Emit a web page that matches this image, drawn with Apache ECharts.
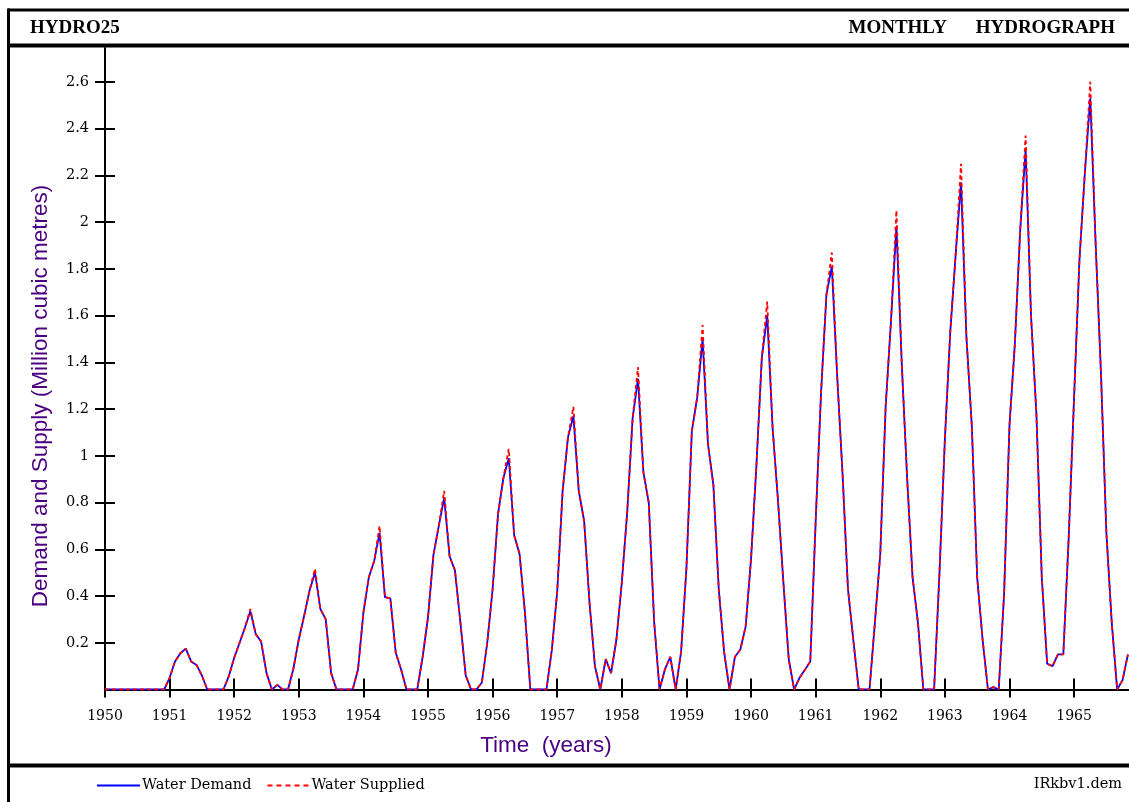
<!DOCTYPE html>
<html>
<head>
<meta charset="utf-8">
<script src="https://cdn.jsdelivr.net/npm/echarts@6/dist/echarts.min.js"></script>
<style>
html,body{margin:0;padding:0;background:#ffffff;}
#chart{width:1129px;height:802px;}
</style>
</head>
<body>
<div id="chart"></div>
<script>
// ---- data (monthly, starting January 1950) ----
const startYear = 1950;
const yearTicks = [1950,1951,1952,1953,1954,1955,1956,1957,1958,1959,1960,1961,1962,1963,1964,1965];
const valueTicks = [0.2,0.4,0.6,0.8,1.0,1.2,1.4,1.6,1.8,2.0,2.2,2.4,2.6];

const waterSupplied = [
  0,0,0,0,0,0,0,0,0,0,0,0,                               // 1950
  0.05,0.12,0.155,0.175,0.12,0.105,0.06,0,0,0,0,0.057,    // 1951
  0.136,0.2,0.265,0.345,0.237,0.205,0.07,0,0.02,0,0,0.09, // 1952
  0.215,0.316,0.424,0.517,0.345,0.30,0.07,0,0,0,0,0.086,  // 1953
  0.33,0.48,0.55,0.70,0.395,0.39,0.158,0.086,0,0,0,0.14,  // 1954
  0.31,0.575,0.70,0.85,0.57,0.51,0.29,0.06,0,0,0.03,0.20, // 1955
  0.43,0.75,0.905,1.03,0.66,0.58,0.33,0,0,0,0,0.17,       // 1956
  0.42,0.85,1.08,1.21,0.85,0.72,0.37,0.10,0,0.13,0.07,0.215, // 1957
  0.46,0.76,1.16,1.38,0.93,0.80,0.29,0,0.086,0.14,0,0.16, // 1958
  0.52,1.106,1.25,1.56,1.05,0.876,0.43,0.16,0,0.14,0.17,0.27, // 1959
  0.56,0.96,1.42,1.66,1.12,0.81,0.46,0.13,0,0.05,0.084,0.12,  // 1960
  0.72,1.27,1.69,1.87,1.34,0.92,0.43,0.21,0,0,0,0.285,    // 1961
  0.58,1.21,1.58,2.05,1.39,0.90,0.48,0.285,0,0,0,0.50,    // 1962
  1.07,1.53,1.86,2.25,1.51,1.13,0.48,0.215,0,0.01,0,0.41, // 1963
  1.13,1.48,1.97,2.37,1.60,1.18,0.48,0.11,0.10,0.15,0.15,0.65, // 1964
  1.25,1.84,2.21,2.60,1.91,1.35,0.67,0.285,0,0.04,0.15        // 1965
];
const waterDemand = [
  0,0,0,0,0,0,0,0,0,0,0,0,
  0.05,0.12,0.155,0.175,0.12,0.105,0.06,0,0,0,0,0.057,
  0.136,0.2,0.265,0.335,0.237,0.205,0.07,0,0.02,0,0,0.09,
  0.215,0.316,0.424,0.50,0.345,0.30,0.07,0,0,0,0,0.086,
  0.33,0.48,0.55,0.67,0.395,0.39,0.158,0.086,0,0,0,0.14,
  0.31,0.575,0.70,0.82,0.57,0.51,0.29,0.06,0,0,0.03,0.20,
  0.43,0.75,0.905,0.99,0.66,0.58,0.33,0,0,0,0,0.17,
  0.42,0.85,1.08,1.17,0.85,0.72,0.37,0.10,0,0.13,0.07,0.215,
  0.46,0.76,1.16,1.33,0.93,0.80,0.29,0,0.086,0.14,0,0.16,
  0.52,1.106,1.25,1.50,1.05,0.876,0.43,0.16,0,0.14,0.17,0.27,
  0.56,0.96,1.42,1.60,1.12,0.81,0.46,0.13,0,0.05,0.084,0.12,
  0.72,1.27,1.69,1.81,1.34,0.92,0.43,0.21,0,0,0,0.285,
  0.58,1.21,1.58,1.98,1.39,0.90,0.48,0.285,0,0,0,0.50,
  1.07,1.53,1.86,2.17,1.51,1.13,0.48,0.215,0,0.01,0,0.41,
  1.13,1.48,1.97,2.31,1.60,1.18,0.48,0.11,0.10,0.15,0.15,0.65,
  1.25,1.84,2.21,2.53,1.91,1.35,0.67,0.285,0,0.04,0.15
];

const toPairs = arr => arr.map((v, i) => [startYear + i / 12, v]);

const chart = echarts.init(document.getElementById('chart'), null, {renderer: 'canvas'});
const serif = 'DejaVu Serif';
const axisColor = '#000';
const nameColor = '#4b0082';

const xTickCommon = {min: 1950, max: 1965.85, interval: 1, type: 'value'};
const yCommon = {min: 0, max: 2.745, interval: 0.2, type: 'value'};

chart.setOption({
  animation: false,
  backgroundColor: '#ffffff',
  grid: {left: 105, right: 0, top: 48, bottom: 112.5, containLabel: false},
  xAxis: [
    Object.assign({}, xTickCommon, {
      position: 'bottom',
      axisLine: {show: true, onZero: false, lineStyle: {color: axisColor, width: 2}},
      axisTick: {show: true, inside: false, length: 8, customValues: yearTicks, lineStyle: {color: axisColor, width: 2}},
      axisLabel: {show: true, customValues: yearTicks, margin: 20, color: '#000', fontFamily: serif, fontSize: 14,
                  formatter: v => String(Math.round(v))},
      splitLine: {show: false}
    }),
    Object.assign({}, xTickCommon, {
      position: 'bottom', offset: 0,
      axisLine: {show: false, onZero: false},
      axisTick: {show: true, inside: true, length: 11, customValues: yearTicks, lineStyle: {color: axisColor, width: 2}},
      axisLabel: {show: false},
      splitLine: {show: false}
    })
  ],
  yAxis: [
    Object.assign({}, yCommon, {
      position: 'left',
      axisLine: {show: true, onZero: false, lineStyle: {color: axisColor, width: 2}},
      axisTick: {show: true, inside: false, length: 10, customValues: valueTicks, lineStyle: {color: axisColor, width: 2}},
      axisLabel: {show: true, customValues: valueTicks, margin: 16, color: '#000', fontFamily: serif, fontSize: 14.5,
                  formatter: v => String(parseFloat(v.toFixed(1)))},
      splitLine: {show: false}
    }),
    Object.assign({}, yCommon, {
      position: 'left', offset: 0,
      axisLine: {show: false, onZero: false},
      axisTick: {show: true, inside: true, length: 10, customValues: valueTicks, lineStyle: {color: axisColor, width: 2}},
      axisLabel: {show: false},
      splitLine: {show: false}
    })
  ],
  legend: {
    left: 97, top: 778, padding: 0,
    itemWidth: 43, itemHeight: 2, itemGap: 16,
    textStyle: {fontFamily: serif, fontSize: 14.5, color: '#000', padding: [0, 0, 0, -3]},
    data: [
      {name: 'Water Demand', icon: 'path://M0,0H43V2H0Z'},
      {name: 'Water Supplied', icon: 'path://M0,0H5V2H0Z M9,0H14V2H9Z M18,0H23V2H18Z M27,0H32V2H27Z M36,0H41V2H36Z'}
    ]
  },
  series: [
    {
      name: 'Water Demand', type: 'line', xAxisIndex: 0, yAxisIndex: 0,
      data: toPairs(waterDemand), symbol: 'none', smooth: false,
      lineStyle: {color: '#0000ff', width: 1.8}, itemStyle: {color: '#0000ff'}, z: 3
    },
    {
      name: 'Water Supplied', type: 'line', xAxisIndex: 0, yAxisIndex: 0,
      data: toPairs(waterSupplied), symbol: 'none', smooth: false,
      lineStyle: {color: '#ff0000', width: 1.8, type: [4, 3]}, itemStyle: {color: '#ff0000'}, z: 4
    }
  ],
  graphic: [
    {type: 'line', shape: {x1: 8, y1: 10, x2: 1129, y2: 10}, style: {stroke: '#000', lineWidth: 3}, z: 10},
    {type: 'line', shape: {x1: 8.5, y1: 8.5, x2: 8.5, y2: 802}, style: {stroke: '#000', lineWidth: 3}, z: 10},
    {type: 'line', shape: {x1: 8, y1: 45.5, x2: 1129, y2: 45.5}, style: {stroke: '#000', lineWidth: 4}, z: 10},
    {type: 'line', shape: {x1: 8, y1: 765.5, x2: 1129, y2: 765.5}, style: {stroke: '#000', lineWidth: 4}, z: 10},
    {type: 'text', x: 30, y: 28, style: {text: 'HYDRO25', font: 'bold 19px "Liberation Serif"', fill: '#000', textVerticalAlign: 'middle'}},
    {type: 'text', x: 947, y: 28, style: {text: 'MONTHLY', font: 'bold 19px "Liberation Serif"', fill: '#000', textAlign: 'right', textVerticalAlign: 'middle'}},
    {type: 'text', x: 1115, y: 28, style: {text: 'HYDROGRAPH', font: 'bold 19px "Liberation Serif"', fill: '#000', textAlign: 'right', textVerticalAlign: 'middle'}},
    {type: 'text', x: 546, y: 746, style: {text: 'Time  (years)', font: '22.5px "Liberation Sans"', fill: nameColor, textAlign: 'center', textVerticalAlign: 'middle'}},
    {type: 'text', x: 41, y: 396, rotation: Math.PI / 2, style: {text: 'Demand and Supply (Million cubic metres)', font: '22.5px "Liberation Sans"', fill: nameColor, textAlign: 'center', textVerticalAlign: 'middle'}},
    {type: 'text', x: 1122, y: 784, style: {text: 'IRkbv1.dem', font: '14.5px "DejaVu Serif"', fill: '#000', textAlign: 'right', textVerticalAlign: 'middle'}}
  ]
});
</script>
</body>
</html>
